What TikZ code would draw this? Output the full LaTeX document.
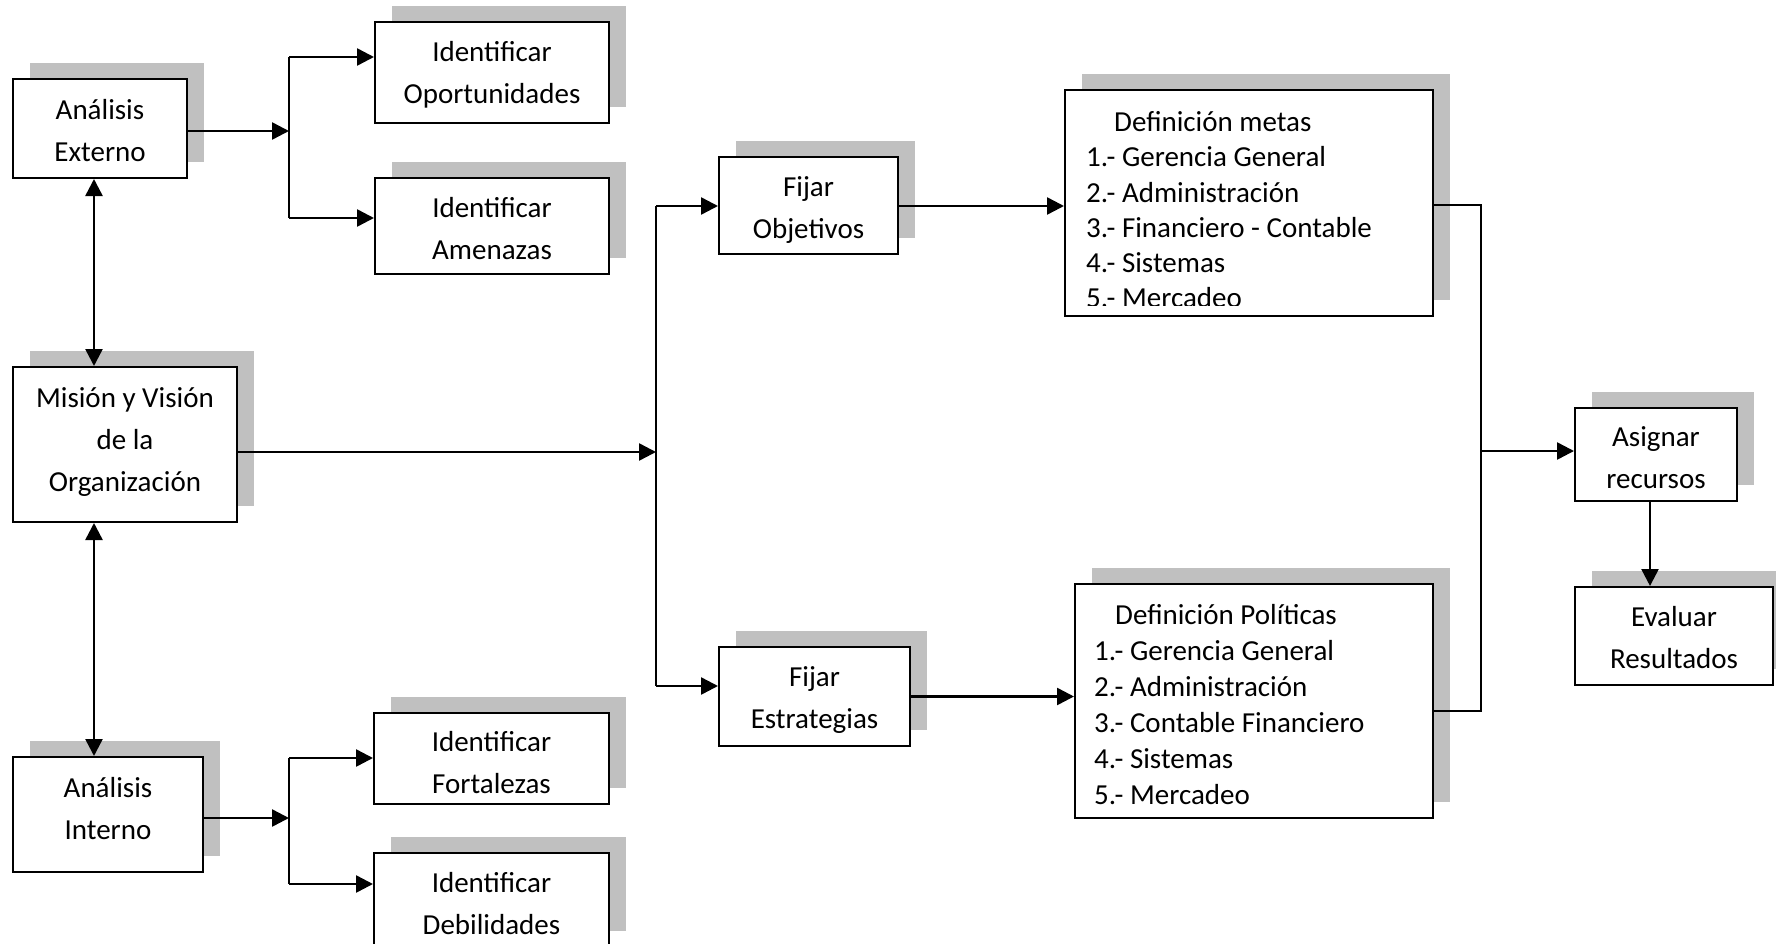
\documentclass[tikz,border=0pt]{standalone}
\usepackage{fontspec}
\setmainfont{Carlito}
\usetikzlibrary{arrows.meta,shadows}
\definecolor{shgray}{RGB}{192,192,192}
\tikzset{
  bx/.style={draw=black, line width=2pt, fill=white, inner sep=0pt,
    drop shadow={shadow xshift=17pt, shadow yshift=16pt, fill=shgray, opacity=1}},
  tx/.style={align=center, inner sep=0pt, font=\fontsize{29}{42}\selectfont},
  lt/.style={anchor=base west, inner sep=0pt, font=\fontsize{29}{35}\selectfont},
  ln/.style={line width=2.5pt},
  lnthin/.style={line width=2pt},
  arr/.style={line width=2.5pt, -{Triangle[length=17pt,width=17pt]}},
  arrb/.style={line width=2.5pt, {Triangle[length=17pt,width=17pt]}-{Triangle[length=17pt,width=17pt]}}
}
\begin{document}
\begin{tikzpicture}[x=1pt,y=-1pt]
\useasboundingbox (0,0) rectangle (1776,944);

% boxes
\node[bx, minimum width=173.5pt, minimum height=99pt] (ext) at (100,128.5) {};
\node[bx, minimum width=234pt, minimum height=101pt] (opp) at (492,72.5) {};
\node[bx, minimum width=234pt, minimum height=96pt] (ame) at (492,226) {};
\node[bx, minimum width=224.5pt, minimum height=155pt] (mis) at (125,444.5) {};
\node[bx, minimum width=190.5pt, minimum height=115pt] (int) at (108,814.5) {};
\node[bx, minimum width=235pt, minimum height=91pt] (fort) at (491.5,758.5) {};
\node[bx, minimum width=235pt, minimum height=94pt] (deb) at (491.5,900) {};
\node[bx, minimum width=179pt, minimum height=97pt] (obj) at (808.5,205.5) {};
\node[bx, minimum width=191pt, minimum height=99pt] (est) at (814.5,696.5) {};
\node[bx, minimum width=368pt, minimum height=226pt] (metas) at (1249,203) {};
\node[bx, minimum width=358pt, minimum height=234pt] (pol) at (1254,701) {};
\node[bx, minimum width=162pt, minimum height=93pt] (asig) at (1656,454.5) {};
\node[bx, minimum width=198pt, minimum height=98pt] (eval) at (1674,636) {};

% box texts
\node[tx] (ext-t) at (100,131) {Análisis\\Externo};
\node[tx] (opp-t) at (492,75) {Identificar\\Oportunidades};
\node[tx] (ame-t) at (492,228.5) {Identificar\\Amenazas};
\node[tx] (mis-t) at (125,442.5) {Misión y Visión\\de la\\Organización};
\node[tx] (int-t) at (108,809) {Análisis\\Interno};
\node[tx] (fort-t) at (491.5,762.5) {Identificar\\Fortalezas};
\node[tx] (deb-t) at (491.5,903.5) {Identificar\\Debilidades};
\node[tx] (obj-t) at (808.5,210) {Fijar\\Objetivos};
\node[tx] (est-t) at (814.5,700) {Fijar\\Estrategias};
\node[tx] (asig-t) at (1656,457.5) {Asignar\\recursos};
\node[tx] (eval-t) at (1674,638) {Evaluar\\Resultados};

% list texts
\begin{scope}
\clip (metas.north west) rectangle (1433,305);
\node[lt] (mt) at (1114,132) {Definición metas};
\foreach \t [count=\i] in {1.- Gerencia General,2.- Administración,3.- Financiero - Contable,4.- Sistemas,5.- Mercadeo}
  \node[lt] (m\i) at (1086,132+35*\i) {\t};
\end{scope}
\node[lt] (pt) at (1115,624) {Definición Políticas};
\foreach \t [count=\i] in {1.- Gerencia General,2.- Administración,3.- Contable Financiero,4.- Sistemas,5.- Mercadeo}
  \node[lt] (p\i) at (1094,624+36*\i) {\t};

% upper left branch
\coordinate (j1) at (289,131);
\coordinate (b1t) at (289,57);
\coordinate (b1b) at (289,218);
\draw[arr] (j1 -| ext.east) -- (j1);
\draw[ln] (b1t) -- (b1b);
\draw[arr] (b1t) -- (b1t -| opp.west);
\draw[arr] (b1b) -- (b1b -| ame.west);

% lower left branch
\coordinate (j2) at (289,818);
\coordinate (b2t) at (289,758);
\coordinate (b2b) at (289,884);
\draw[arr] (j2 -| int.east) -- (j2);
\draw[ln] (b2t) -- (b2b);
\draw[arr] (b2t) -- (b2t -| fort.west);
\draw[arr] (b2b) -- (b2b -| deb.west);

% vertical double arrows
\coordinate (vx) at (94,0);
\draw[arrb] (ext.south -| vx) -- (mis.north -| vx);
\draw[arrb] (mis.south -| vx) -- (int.north -| vx);

% middle branch
\coordinate (j3) at (656,452);
\coordinate (b3t) at (656,206);
\coordinate (b3b) at (656,686);
\draw[arr] (j3 -| mis.east) -- (j3);
\draw[ln] (b3t) -- (b3b);
\draw[arr] (b3t) -- (b3t -| obj.west);
\draw[arr] (b3b) -- (b3b -| est.west);

% to lists
\coordinate (c1) at (0,206);
\draw[arr] (obj.east |- c1) -- (metas.west |- c1);
\draw[arr] (est.east) -- (pol.west |- est.east);

% right collector
\coordinate (rt) at (1481,205);
\coordinate (rb) at (1481,711);
\coordinate (rj) at (1481,451);
\draw[lnthin] (rt -| metas.east) -- (rt) -- (rb) -- (rb -| pol.east);
\draw[arr] (rj) -- (rj -| asig.west);

% asignar -> evaluar
\coordinate (ae) at (1650,0);
\draw[arr] (asig.south -| ae) -- (eval.north -| ae);
\end{tikzpicture}
\end{document}
